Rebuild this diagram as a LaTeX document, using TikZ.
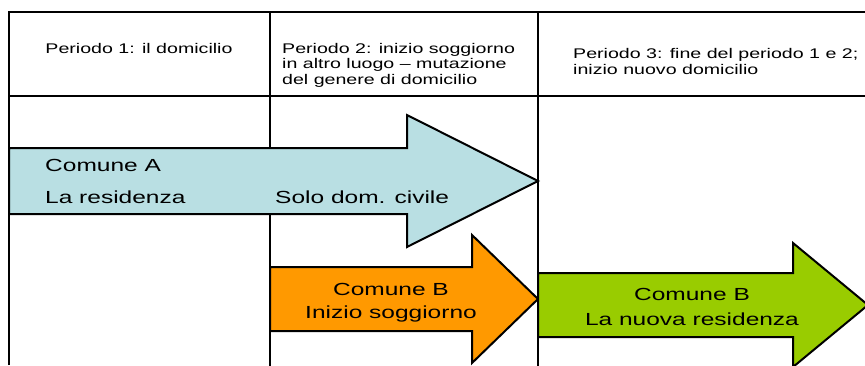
\documentclass[tikz,border=0pt]{standalone}
\usepackage{fontspec}
\setmainfont{Liberation Sans}[FakeStretch=1.4]
\usetikzlibrary{calc}

\definecolor{azzurro}{HTML}{B9DFE3}
\definecolor{arancio}{HTML}{FF9900}
\definecolor{verde}{HTML}{99CC00}

\tikzset{
    testa/.style={font=\fontsize{14}{15.5}\selectfont, inner sep=0},
    testo/.style={font=\fontsize{17.5}{23.5}\selectfont, inner sep=0}
}

\begin{document}
\begin{tikzpicture}[x=1pt, y=-1pt]
    \useasboundingbox (0,0) rectangle (865,365);
    \clip (0,0) rectangle (865,365);

    % griglia
    \draw[line width=2] (9,365) -- (9,12) -- (866,12);
    \draw[line width=2] (9,96) -- (866,96);
    \draw[line width=2] (270,12) -- (270,366);
    \draw[line width=2] (538,12) -- (538,366);

    \node[testa] (per1) at (139,48) {Periodo 1: il domicilio};
    \node[testa, anchor=north west, align=left] (per2) at (282,43)
        {Periodo 2: inizio soggiorno\\in altro luogo -- mutazione\\del genere di domicilio};
    \node[testa, anchor=north west, align=left, font=\fontsize{14}{16.5}\selectfont] (per3) at (573,48)
        {Periodo 3: fine del periodo 1 e 2;\\inizio nuovo domicilio};

    % frecce
    \filldraw[fill=azzurro, line width=2, line join=miter]
        (9,148) -- (407,148) -- (407,115) -- (538,181) -- (407,247) -- (407,214) -- (9,214) -- cycle;
    \filldraw[fill=arancio, line width=2, line join=miter]
        (270,267) -- (472,267) -- (472,235) -- (538,299) -- (472,363) -- (472,331) -- (270,331) -- cycle;
    \filldraw[fill=verde, line width=2, line join=miter]
        (538,273) -- (793,273) -- (793,243) -- (868,305) -- (793,367) -- (793,337) -- (538,337) -- cycle;

    \node[testo, anchor=west] (comA) at (45,165) {Comune A};
    \node[testo, anchor=west] (resA) at (45,197) {La residenza};
    \node[testo, anchor=west] (civA) at (275,197) {Solo dom. civile};
    \node[testo, anchor=north, align=center] (comB1) at (391,283) {Comune B\\Inizio soggiorno};
    \node[testo, anchor=north, align=center, font=\fontsize{17.5}{25}\selectfont] (comB2) at (692,288)
        {Comune B\\La nuova residenza};

\end{tikzpicture}
\end{document}
